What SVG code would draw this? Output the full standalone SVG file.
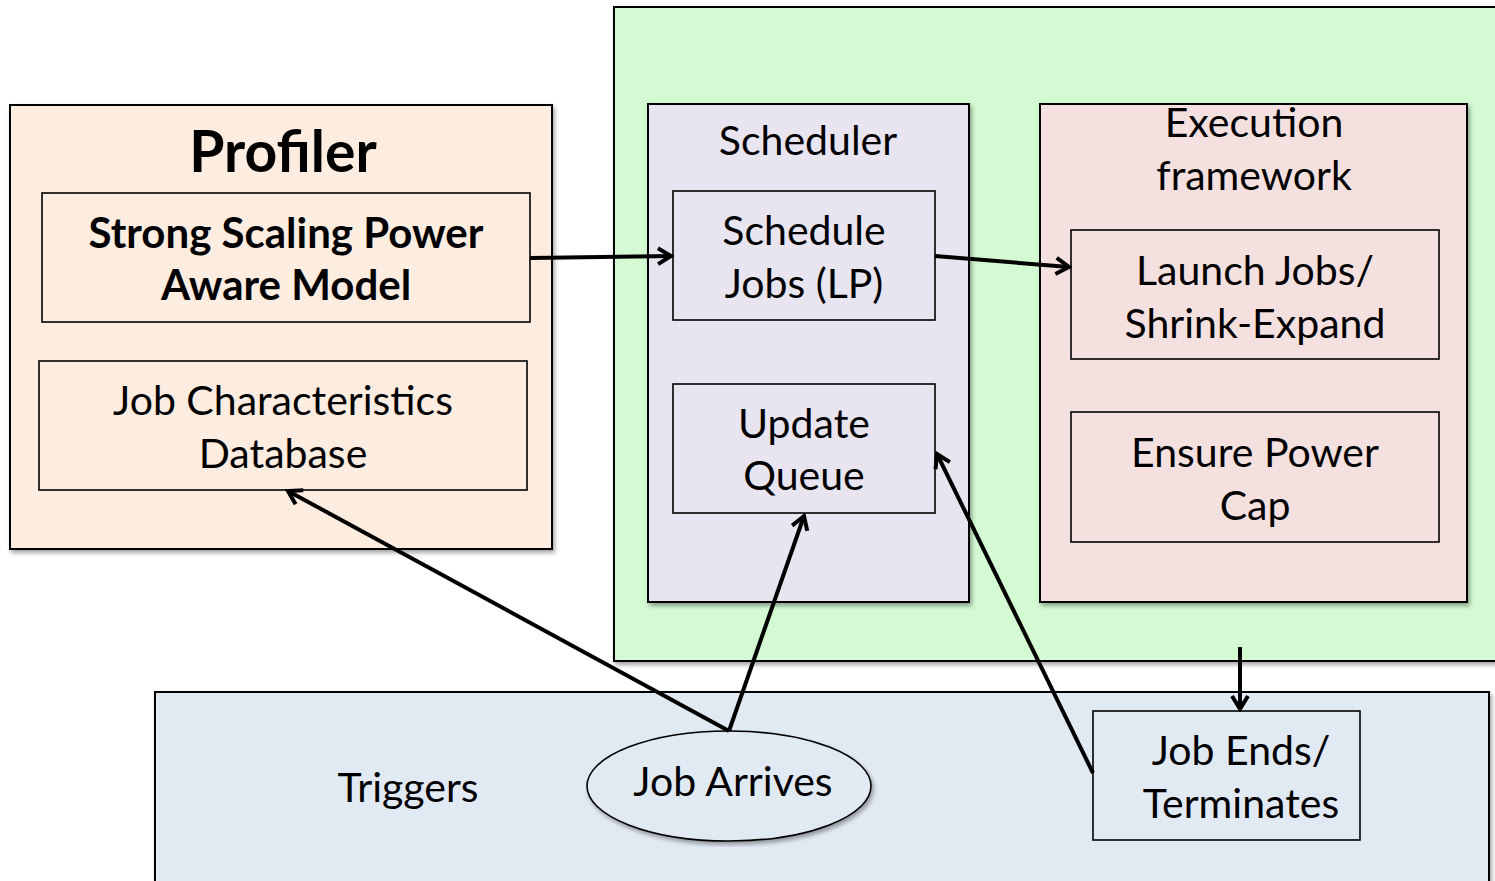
<svg xmlns="http://www.w3.org/2000/svg" width="1495" height="881" viewBox="0 0 1495 881">
  <defs>
    <filter id="shadow" x="-5%" y="-5%" width="110%" height="110%">
      <feDropShadow dx="2" dy="3" stdDeviation="2" flood-color="#000" flood-opacity="0.35"/>
    </filter>
    <marker id="arrow" viewBox="0 0 20 20" refX="17" refY="10" markerWidth="20" markerHeight="20" markerUnits="userSpaceOnUse" orient="auto">
      <polyline points="4,2 17,10 4,18" fill="none" stroke="#000" stroke-width="4" stroke-linejoin="miter"/>
    </marker>
  </defs>
  <style>
    .box { stroke: #000; stroke-width: 2; }
    .inner { stroke: #000; stroke-width: 1.6; fill: none; }
    .t { font-family: Lato, "Open Sans", "Liberation Sans", sans-serif; font-size: 41px; fill: #000; text-anchor: middle; }
    .b { font-weight: bold; font-size: 42px; }
    .title { font-weight: bold; font-size: 57px; }
    .link { stroke: #000; stroke-width: 4; fill: none; marker-end: url(#arrow); }
  </style>

  <rect width="1495" height="881" fill="#fff"/>

  <!-- runtime system (scheduler + execution) -->
  <g id="runtime">
    <rect class="box" x="614" y="7" width="890" height="654" fill="#d3fad3" filter="url(#shadow)"/>
  </g>

  <!-- profiler -->
  <g id="profiler">
    <rect class="box" x="10" y="105" width="542" height="444" fill="#fdece0" filter="url(#shadow)"/>
    <text class="t title" x="283" y="172">Profiler</text>
  </g>
  <g id="model">
    <rect class="inner" x="42" y="193" width="488" height="129"/>
    <text class="t b" x="286" y="248">Strong Scaling Power</text>
    <text class="t b" x="286" y="300">Aware Model</text>
  </g>
  <g id="database">
    <rect class="inner" x="39" y="361" width="488" height="129"/>
    <text class="t" x="283" y="415">Job Characteristics</text>
    <text class="t" x="283" y="468">Database</text>
  </g>

  <!-- scheduler -->
  <g id="scheduler">
    <rect class="box" x="648" y="104" width="321" height="498" fill="#e8e4f0" filter="url(#shadow)"/>
    <text class="t" x="808" y="155">Scheduler</text>
  </g>
  <g id="schedule-jobs">
    <rect class="inner" x="673" y="191" width="262" height="129"/>
    <text class="t" x="804" y="245">Schedule</text>
    <text class="t" x="804" y="298">Jobs (LP)</text>
  </g>
  <g id="update-queue">
    <rect class="inner" x="673" y="384" width="262" height="129"/>
    <text class="t" x="804" y="438">Update</text>
    <text class="t" x="804" y="490">Queue</text>
  </g>

  <!-- execution framework -->
  <g id="execution">
    <rect class="box" x="1040" y="104" width="427" height="498" fill="#f4e1df" filter="url(#shadow)"/>
    <text class="t" x="1254" y="137">Execution</text>
    <text class="t" x="1254" y="190">framework</text>
  </g>
  <g id="launch">
    <rect class="inner" x="1071" y="230" width="368" height="129"/>
    <text class="t" x="1255" y="285">Launch Jobs/</text>
    <text class="t" x="1255" y="338">Shrink-Expand</text>
  </g>
  <g id="power-cap">
    <rect class="inner" x="1071" y="412" width="368" height="130"/>
    <text class="t" x="1255" y="467">Ensure Power</text>
    <text class="t" x="1255" y="520">Cap</text>
  </g>

  <!-- triggers -->
  <g id="triggers">
    <rect class="box" x="155" y="692" width="1334" height="200" fill="#e1e9f3" filter="url(#shadow)"/>
    <text class="t" x="408" y="802">Triggers</text>
  </g>
  <g id="job-arrives">
    <ellipse cx="729" cy="786" rx="142" ry="55" fill="#e1e9f3" stroke="#000" stroke-width="1.6" filter="url(#shadow)"/>
    <text class="t" x="733" y="796">Job Arrives</text>
  </g>
  <g id="job-ends">
    <rect x="1093" y="711" width="267" height="129" fill="#e1e9f3" stroke="#000" stroke-width="1.6"/>
    <text class="t" x="1241" y="765">Job Ends/</text>
    <text class="t" x="1241" y="818">Terminates</text>
  </g>

  <!-- connectors -->
  <g id="connectors">
    <line class="link" x1="530" y1="258" x2="671" y2="256"/>
    <line class="link" x1="935" y1="256" x2="1069" y2="267"/>
    <line class="link" x1="729" y1="731" x2="288" y2="491"/>
    <line class="link" x1="729" y1="731" x2="804" y2="516"/>
    <line class="link" x1="1093" y1="773" x2="937" y2="454"/>
    <line class="link" x1="1240" y1="647" x2="1240" y2="709"/>
  </g>
</svg>
